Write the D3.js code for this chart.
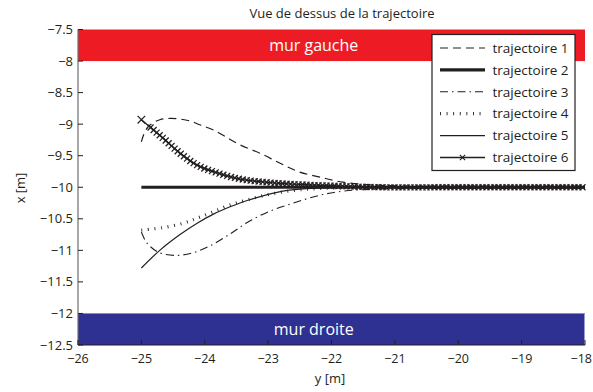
<!DOCTYPE html>
<html><head><meta charset="utf-8">
<script src="https://cdn.jsdelivr.net/npm/d3@7"></script>
<style>
body{margin:0;background:#fff;}
text{font-family:"Open Sans",sans-serif;fill:#231f20;}
</style></head><body>
<svg id="c" width="593" height="392"></svg>
<script>
const xTicks = [-26,-25,-24,-23,-22,-21,-20,-19,-18];
const yTicks = [-7.5,-8,-8.5,-9,-9.5,-10,-10.5,-11,-11.5,-12,-12.5];
const seriesNames = ["trajectoire 1","trajectoire 2","trajectoire 3","trajectoire 4","trajectoire 5","trajectoire 6"];
// [y, x] pairs
const traj1 = [[-25,-9.28],[-24.94,-9.11],[-24.86,-9.01],[-24.71,-8.93],[-24.55,-8.91],[-24.39,-8.92],[-24.23,-8.95],[-24.08,-9.01],[-23.87,-9.09],[-23.67,-9.20],[-23.44,-9.33],[-23.13,-9.46],[-22.81,-9.62],[-22.5,-9.76],[-22.18,-9.84],[-21.82,-9.92],[-21.39,-9.96],[-20.9,-9.98],[-20,-9.98],[-18,-9.98]];
const traj2 = [[-25,-10],[-18,-10]];
const traj3 = [[-25,-10.71],[-24.93,-10.86],[-24.86,-10.94],[-24.71,-11.04],[-24.44,-11.08],[-24.19,-11.04],[-23.92,-10.93],[-23.6,-10.74],[-23.33,-10.56],[-23.0,-10.39],[-22.6,-10.25],[-22.2,-10.13],[-21.8,-10.06],[-21.3,-10.03],[-20.5,-10.02],[-18,-10.02]];
const traj4 = [[-25,-10.68],[-24.66,-10.64],[-24.34,-10.57],[-24.12,-10.49],[-23.87,-10.39],[-23.6,-10.28],[-23.33,-10.2],[-22.97,-10.11],[-22.5,-10.04],[-21.87,-10.01],[-21,-10],[-18,-10]];
const traj5 = [[-25,-11.28],[-24.71,-11.0],[-24.39,-10.75],[-24.12,-10.57],[-23.87,-10.43],[-23.6,-10.31],[-23.33,-10.21],[-22.77,-10.06],[-22.18,-10.01],[-21,-10],[-18,-10]];
const traj6 = [[-25,-8.93],[-24.66,-9.22],[-24.39,-9.46],[-24.12,-9.65],[-23.81,-9.77],[-23.44,-9.87],[-22.92,-9.93],[-22.39,-9.96],[-21.87,-9.98],[-21.24,-10.0],[-20,-10],[-18,-10]];
const walls = [{name:"mur gauche", from:-7.5, to:-8, color:"#ed1c24"},{name:"mur droite", from:-12, to:-12.5, color:"#2e3192"}];

const svg = d3.select("#c");
const L=78, R=585, T=29.5, B=345;
const x = d3.scaleLinear().domain([-26,-18]).range([L,R]);
const y = d3.scaleLinear().domain([-12.5,-7.5]).range([B,T]);

// walls
walls.forEach(w=>{
  svg.append("rect").attr("x",x(-26)).attr("width",x(-18)-x(-26))
    .attr("y",y(w.from)).attr("height",y(w.to)-y(w.from)).attr("fill",w.color);
  svg.append("text").attr("x",x(-26)+ (x(-18)-x(-26))*0.465).attr("y",(y(w.from)+y(w.to))/2)
    .attr("dy","0.35em").attr("text-anchor","middle").style("fill","#fff").style("font-size","16px").text(w.name);
});
svg.append("line").attr("x1",R-0.5).attr("x2",R-0.5).attr("y1",y(-12)).attr("y2",y(-12.5)).attr("stroke","#9a9bd0").attr("stroke-width",1);

const line = d3.line().x(d=>x(d[0])).y(d=>y(d[1])).curve(d3.curveCatmullRom.alpha(0.5));
const styles = [
  {data:traj1, w:1.2, dash:"8,5"},
  {data:traj2, w:3.2, dash:null},
  {data:traj3, w:1.1, dash:"8,4,1.5,4"},
  {data:traj4, w:3.2, dash:"0.9,5.7"},
  {data:traj5, w:1.2, dash:null},
  {data:traj6, w:1.3, dash:null, marker:true}
];
const g = svg.append("g");
styles.forEach(s=>{
  const p = g.append("path").attr("d",line(s.data)).attr("fill","none").attr("stroke","#231f20")
    .attr("stroke-width",s.w).attr("stroke-dasharray",s.dash);
  if(s.marker){
    const node = p.node(), len = node.getTotalLength();
    const pts=[];
    pts.push({p:node.getPointAtLength(0), r:3.8});
    for(let l=12; l<=len; l+=4.0) pts.push({p:node.getPointAtLength(l), r:3.0});
    const mk=g.append("g").attr("stroke","#231f20").attr("stroke-width",1.25);
    pts.forEach(o=>{
      mk.append("path").attr("d",`M${o.p.x-o.r},${o.p.y-o.r}L${o.p.x+o.r},${o.p.y+o.r}M${o.p.x-o.r},${o.p.y+o.r}L${o.p.x+o.r},${o.p.y-o.r}`);
    });
  }
});

// axes
const ax = svg.append("g");
ax.append("line").attr("x1",L).attr("x2",L).attr("y1",T).attr("y2",B).attr("stroke","#6d6e71").attr("stroke-width",1.2);
ax.append("line").attr("x1",L).attr("x2",R).attr("y1",B).attr("y2",B).attr("stroke","#231f20").attr("stroke-width",1.2);
yTicks.forEach(t=>{
  ax.append("line").attr("x1",L).attr("x2",L+5).attr("y1",y(t)).attr("y2",y(t)).attr("stroke","#231f20");
  ax.append("text").attr("x",L-5).attr("y",y(t)).attr("dy","0.35em").attr("text-anchor","end").style("font-size","13px").text(String(t).replace("-","\u2212"));
});
xTicks.forEach((t,i)=>{
  const last = i===xTicks.length-1;
  ax.append("line").attr("x1",x(t)).attr("x2",x(t)).attr("y1",B).attr("y2",B-5).attr("stroke","#231f20");
  ax.append("text").attr("x",last?592:x(t)).attr("y",359).attr("dy","0.35em").attr("text-anchor",last?"end":"middle").style("font-size","12.5px").text(String(t).replace("-","\u2212"));
});
svg.append("text").attr("x",330).attr("y",378).attr("dy","0.35em").attr("text-anchor","middle").style("font-size","13px").text("y [m]");
svg.append("text").attr("transform","translate(20,188) rotate(-90)").attr("dy","0.35em").attr("text-anchor","middle").style("font-size","13px").text("x [m]");
svg.append("text").attr("x",342).attr("y",13).attr("dy","0.35em").attr("text-anchor","middle").style("font-size","13px").text("Vue de dessus de la trajectoire");

// legend
const lg = svg.append("g");
lg.append("rect").attr("x",432).attr("y",34.5).attr("width",143).attr("height",136).attr("fill","#fff").attr("stroke","#231f20").attr("stroke-width",1.2);
seriesNames.forEach((n,i)=>{
  const yy = 48 + i*21.9, s = styles[i];
  lg.append("line").attr("x1",440).attr("x2",485).attr("y1",yy).attr("y2",yy).attr("stroke","#231f20")
    .attr("stroke-width",s.w).attr("stroke-dasharray",s.dash);
  if(s.marker){
    const r=2.6, cx=462.5;
    lg.append("path").attr("d",`M${cx-r},${yy-r}L${cx+r},${yy+r}M${cx-r},${yy+r}L${cx+r},${yy-r}`).attr("stroke","#231f20").attr("stroke-width",1.1);
  }
  lg.append("text").attr("x",492.5).attr("y",yy).attr("dy","0.35em").style("font-size","13.5px").text(n);
});
</script></body></html>
